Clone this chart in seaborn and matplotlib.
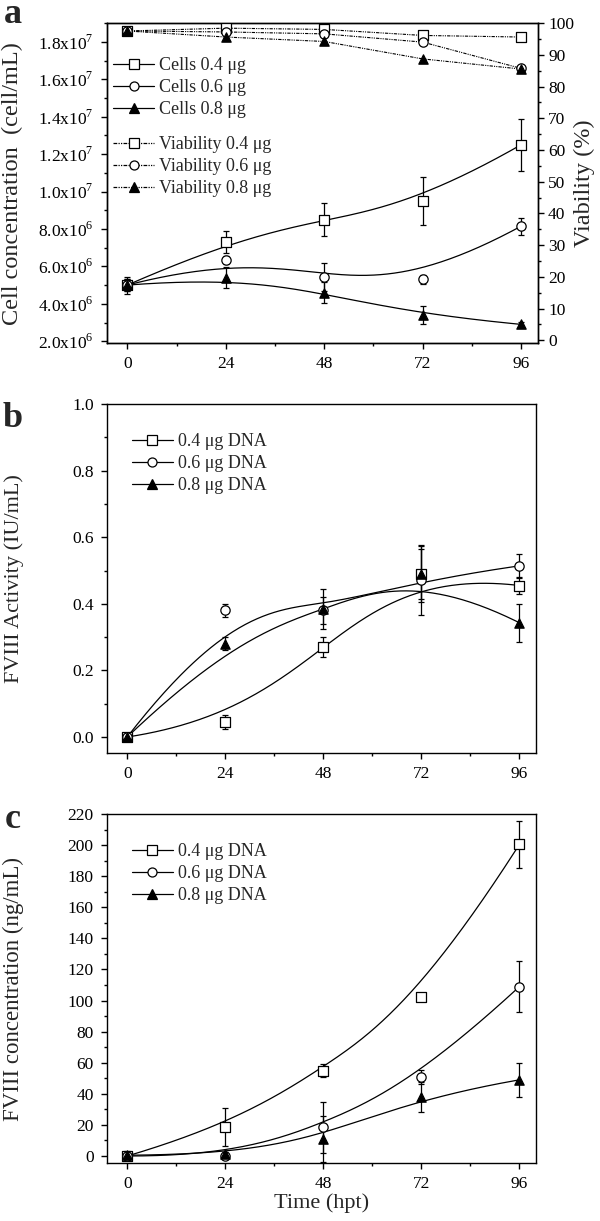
import numpy as np
import matplotlib
matplotlib.use('Agg')
import matplotlib.pyplot as plt
import matplotlib.ticker as ticker
from matplotlib import font_manager
from matplotlib.lines import Line2D
import seaborn as sns

hours = [0, 24, 48, 72, 96]

# a: cell concentration (cell/mL)
cells_04 = [5.0e6, 7.3e6, 8.5e6, 9.5e6, 12.5e6]
cells_04_err = [0.45e6, 0.6e6, 0.9e6, 1.3e6, 1.4e6]
cells_06 = [5.0e6, 6.35e6, 5.45e6, 5.3e6, 8.15e6]
cells_06_err = [0.3e6, 0.2e6, 0.75e6, 0.23e6, 0.45e6]
cells_08 = [5.0e6, 5.4e6, 4.6e6, 3.4e6, 2.9e6]
cells_08_err = [0.3e6, 0.55e6, 0.55e6, 0.5e6, 0.15e6]
# a: viability (%)
via_04 = [97.5, 98.4, 98.0, 96.1, 95.6]
via_06 = [97.5, 97.2, 96.6, 94.0, 85.7]
via_08 = [97.5, 95.6, 94.2, 88.7, 85.5]

# b: FVIII activity (IU/mL)
act_04 = [0.0, 0.045, 0.27, 0.49, 0.455]
act_04_err = [0.008, 0.022, 0.03, 0.085, 0.027]
act_06 = [0.0, 0.38, 0.38, 0.472, 0.514]
act_06_err = [0.008, 0.02, 0.04, 0.105, 0.036]
act_08 = [0.0, 0.28, 0.385, 0.49, 0.343]
act_08_err = [0.008, 0.02, 0.06, 0.075, 0.057]

# c: FVIII concentration (ng/mL)
conc_04 = [0.0, 18.7, 55.0, 102.0, 200.5]
conc_04_err = [1.5, 12.0, 4.0, 1.5, 15.0]
conc_06 = [0.0, 0.0, 18.5, 51.0, 109.0]
conc_06_err = [1.0, 1.0, 16.5, 4.5, 16.5]
conc_08 = [0.5, 1.0, 11.0, 38.0, 49.0]
conc_08_err = [2.5, 1.5, 15.0, 9.5, 11.0]

cell_labels = ['Cells 0.4 \u03bcg', 'Cells 0.6 \u03bcg', 'Cells 0.8 \u03bcg']
via_labels = ['Viability 0.4 \u03bcg', 'Viability 0.6 \u03bcg', 'Viability 0.8 \u03bcg']
dna_labels = ['0.4 \u03bcg DNA', '0.6 \u03bcg DNA', '0.8 \u03bcg DNA']
markers = ['s', 'o', '^']
faces = ['white', 'white', 'black']

sns.set_theme(style='ticks')

# pick a Times-like face if one is installed
installed = {f.name for f in font_manager.fontManager.ttflist}
serif = next((n for n in ['Liberation Serif', 'Times New Roman', 'Nimbus Roman',
                          'TeX Gyre Termes', 'FreeSerif', 'Noto Serif']
              if n in installed), 'DejaVu Serif')
plt.rcParams['font.family'] = [serif, 'DejaVu Serif']
plt.rcParams['mathtext.fontset'] = 'custom'
plt.rcParams['mathtext.rm'] = serif
plt.rcParams['axes.linewidth'] = 1.0
plt.rcParams['axes.edgecolor'] = 'black'

VIA_DASH = (0, (3, 1, 1, 1, 1, 1))


def bspline(xp, yp, n=300, p=3):
    # clamped cubic B-spline with the data points as control points
    P = np.column_stack([xp, yp]).astype(float)
    m = len(P)
    inner = np.linspace(0, 1, m - p + 1)[1:-1]
    knots = np.concatenate([np.zeros(p + 1), inner, np.ones(p + 1)])
    out = []
    for u in np.linspace(0, 1, n):
        k = min(np.searchsorted(knots, u, side='right') - 1, m - 1)
        d = [P[j + k - p].copy() for j in range(p + 1)]
        for r in range(1, p + 1):
            for j in range(p, r - 1, -1):
                lo = knots[j + k - p]
                a = (u - lo) / (knots[j + 1 + k - r] - lo)
                d[j] = (1 - a) * d[j - 1] + a * d[j]
        out.append(d[p])
    out = np.array(out)
    return out[:, 0], out[:, 1]


def draw_series(ax, y, err, marker, face):
    ax.errorbar(hours, y, yerr=err, fmt='none', ecolor='black',
                elinewidth=0.9, capsize=2.5, capthick=0.9, zorder=2)
    xs, ys = bspline(hours, y)
    sns.lineplot(x=xs, y=ys, ax=ax, color='black', lw=0.9, zorder=3, sort=False)
    sns.scatterplot(x=hours, y=y, ax=ax, marker=marker, s=45, color=face,
                    edgecolor='black', linewidth=0.9, zorder=4)


def handles(ls='-'):
    return [Line2D([], [], color='black', lw=0.9, ls=ls, marker=m, ms=6.5,
                   mfc=f, mec='black', mew=0.9) for m, f in zip(markers, faces)]


def style_axis(ax):
    ax.set_xlim(-5, 100)
    ax.xaxis.set_major_locator(ticker.MultipleLocator(24))
    ax.xaxis.set_minor_locator(ticker.MultipleLocator(12))
    ax.tick_params(which='both', direction='out', colors='black', labelsize=12.5,
                   top=False, right=False, pad=5)
    ax.tick_params(which='major', length=4.5, width=1.0)
    ax.tick_params(which='minor', length=2.5, width=1.0)
    for s in ax.spines.values():
        s.set_visible(True)
        s.set_color('black')
        s.set_linewidth(1.0)


def sci_label(v, pos):
    if v <= 0:
        return ''
    e = int(np.floor(np.log10(v) + 1e-9))
    return f"{v / 10 ** e:.1f}x10$^{{{e}}}$"


fig = plt.figure(figsize=(6, 12.21), dpi=100)
ax_a = fig.add_axes([0.178, 0.719, 0.718, 0.2621])
ax_b = fig.add_axes([0.178, 0.3833, 0.715, 0.2858])
ax_c = fig.add_axes([0.178, 0.0475, 0.715, 0.2858])

# ---- panel a ----
ax_v = ax_a.twinx()
for y, e, m, f in zip([cells_04, cells_06, cells_08],
                      [cells_04_err, cells_06_err, cells_08_err], markers, faces):
    draw_series(ax_a, y, e, m, f)
for y, m, f in zip([via_04, via_06, via_08], markers, faces):
    sns.lineplot(x=hours, y=y, ax=ax_v, color='black', lw=0.8, linestyle=VIA_DASH)
    sns.scatterplot(x=hours, y=y, ax=ax_v, marker=m, s=45, color=f,
                    edgecolor='black', linewidth=0.9, zorder=4)
style_axis(ax_a)
ax_a.set_ylim(1.9e6, 1.9e7)
ax_a.yaxis.set_major_locator(ticker.MultipleLocator(2e6))
ax_a.yaxis.set_minor_locator(ticker.MultipleLocator(1e6))
ax_a.yaxis.set_major_formatter(ticker.FuncFormatter(sci_label))
ax_a.set_ylabel('Cell concentration  (cell/mL)', fontsize=17.5)
ax_a.yaxis.set_label_coords(-0.195, 0.5)

ax_v.set_ylim(-0.9, 100)
ax_v.yaxis.set_major_locator(ticker.MultipleLocator(10))
ax_v.yaxis.set_minor_locator(ticker.MultipleLocator(5))
ax_v.tick_params(which='both', direction='out', colors='black', labelsize=12.5,
                 right=True, left=False, pad=3)
ax_v.tick_params(which='major', length=4.5, width=1.0)
ax_v.tick_params(which='minor', length=2.5, width=1.0)
ax_v.set_ylabel('Viability (%)', fontsize=17.5)
ax_v.yaxis.set_label_coords(1.085, 0.5)
ax_a.set_xlabel('')
ax_v.set_xlabel('')

leg_kw = dict(loc='upper left', frameon=False, fontsize=13, handlelength=2.3,
              handletextpad=0.25, labelspacing=0.28, borderaxespad=0, borderpad=0)
leg1 = ax_a.legend(handles(), cell_labels, bbox_to_anchor=(0.014, 0.893), **leg_kw)
ax_a.add_artist(leg1)
ax_a.legend(handles(VIA_DASH), via_labels, bbox_to_anchor=(0.014, 0.646), **leg_kw)

# ---- panel b ----
for y, e, m, f in zip([act_04, act_06, act_08],
                      [act_04_err, act_06_err, act_08_err], markers, faces):
    draw_series(ax_b, y, e, m, f)
style_axis(ax_b)
ax_b.set_ylim(-0.048, 1.0)
ax_b.yaxis.set_major_locator(ticker.MultipleLocator(0.2))
ax_b.yaxis.set_minor_locator(ticker.MultipleLocator(0.1))
ax_b.yaxis.set_major_formatter(ticker.FormatStrFormatter('%.1f'))
ax_b.set_ylabel('FVIII Activity (IU/mL)', fontsize=16)
ax_b.yaxis.set_label_coords(-0.193, 0.5)
ax_b.legend(handles(), dna_labels, bbox_to_anchor=(0.058, 0.916), **leg_kw)

# ---- panel c ----
for y, e, m, f in zip([conc_04, conc_06, conc_08],
                      [conc_04_err, conc_06_err, conc_08_err], markers, faces):
    draw_series(ax_c, y, e, m, f)
style_axis(ax_c)
ax_c.set_ylim(-4.5, 220)
ax_c.yaxis.set_major_locator(ticker.MultipleLocator(20))
ax_c.yaxis.set_minor_locator(ticker.MultipleLocator(10))
ax_c.set_ylabel('FVIII concentration (ng/mL)', fontsize=16.5)
ax_c.yaxis.set_label_coords(-0.193, 0.5)
ax_c.set_xlabel('Time (hpt)', fontsize=16, labelpad=1)
ax_c.legend(handles(), dna_labels, bbox_to_anchor=(0.058, 0.916), **leg_kw)

# panel letters
for letter, ypix in [('a', 23), ('b', 427), ('c', 828)]:
    fig.text(13 / 600, 1 - ypix / 1221, letter, fontsize=26, fontweight='bold',
             ha='center', va='baseline')

fig.savefig('out.png', dpi=100)
